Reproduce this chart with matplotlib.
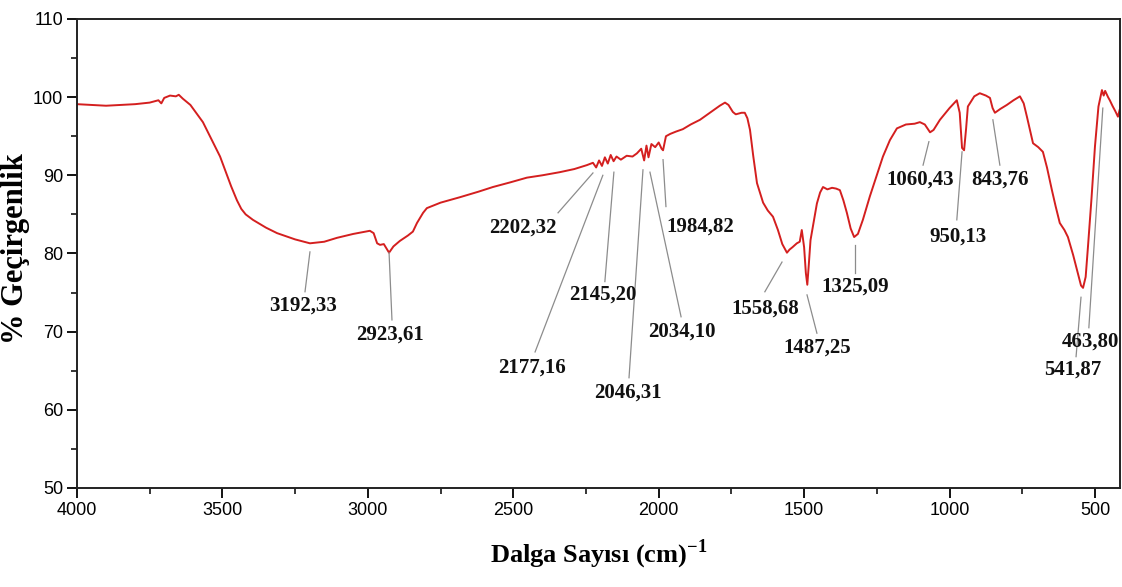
import numpy as np
import matplotlib.pyplot as plt
from matplotlib.ticker import MultipleLocator

plt.rcParams['mathtext.fontset'] = 'custom'
plt.rcParams['mathtext.rm'] = 'Liberation Serif:bold'
plt.rcParams['mathtext.bf'] = 'Liberation Serif:bold'

# FTIR spektrumu (okunan degerler)
wn = [4000, 3950, 3900, 3850, 3800, 3750, 3720, 3710, 3700, 3680, 3660, 3650, 3636, 3610,
      3567, 3508, 3470, 3450, 3435, 3420, 3395, 3350, 3312, 3250, 3199, 3150, 3106, 3050,
      2993, 2980, 2968, 2958, 2945, 2927, 2912, 2890, 2862, 2845, 2831, 2810, 2797, 2750,
      2683, 2620, 2570, 2510, 2453, 2400, 2340, 2290, 2247, 2226, 2215, 2205, 2195, 2185,
      2175, 2165, 2155, 2145, 2130, 2110, 2090, 2075, 2060, 2050, 2042, 2035, 2025, 2012,
      2000, 1990, 1985, 1975, 1960, 1940, 1917, 1890, 1858, 1820, 1790, 1772, 1760, 1745,
      1735, 1715, 1704, 1695, 1686, 1675, 1662, 1641, 1625, 1607, 1590, 1575, 1559, 1550,
      1540, 1525, 1515, 1508, 1500, 1494, 1489, 1484, 1478, 1465, 1456, 1445, 1435, 1420,
      1404, 1390, 1377, 1365, 1353, 1340, 1328, 1315, 1298, 1274, 1250, 1229, 1205, 1181,
      1150, 1120, 1102, 1085, 1067, 1055, 1033, 1000, 975, 965, 957, 950, 943, 937, 915,
      896, 875, 861, 852, 844, 825, 803, 780, 758, 745, 734, 713, 695, 679, 665, 648, 635,
      621, 605, 593, 575, 559, 548, 541, 532, 524, 512, 500, 488, 476, 470, 465, 455, 449,
      440, 430, 421, 415, 408]
tr = [99.1, 99.0, 98.9, 99.0, 99.1, 99.3, 99.6, 99.2, 99.9, 100.2, 100.1, 100.3, 99.8, 99.0,
      96.8, 92.4, 88.6, 86.8, 85.7, 85.0, 84.3, 83.3, 82.6, 81.8, 81.3, 81.5, 82.0, 82.5,
      82.9, 82.6, 81.3, 81.1, 81.2, 80.1, 80.9, 81.6, 82.3, 82.8, 83.9, 85.2, 85.8, 86.5,
      87.2, 87.9, 88.5, 89.1, 89.7, 90.0, 90.4, 90.8, 91.3, 91.6, 91.0, 91.9, 91.2, 92.3,
      91.5, 92.6, 91.8, 92.4, 92.0, 92.5, 92.4, 92.8, 93.4, 91.9, 93.8, 92.3, 94.0, 93.6,
      94.2, 93.4, 93.2, 95.0, 95.3, 95.6, 95.9, 96.5, 97.1, 98.1, 98.9, 99.3, 99.0, 98.1,
      97.8, 98.0, 98.0, 97.3, 95.8, 92.5, 89.0, 86.5, 85.5, 84.7, 83.0, 81.2, 80.1, 80.5,
      80.8, 81.3, 81.5, 83.0, 80.8, 77.5, 76.0, 78.5, 81.7, 84.5, 86.4, 87.8, 88.5, 88.2,
      88.4, 88.3, 88.1, 86.8, 85.2, 83.2, 82.1, 82.5, 84.3, 87.3, 90.0, 92.4, 94.5, 96.0,
      96.5, 96.6, 96.8, 96.5, 95.5, 95.8, 97.1, 98.6, 99.6, 98.0, 93.5, 93.2, 96.0, 98.8,
      100.1, 100.5, 100.2, 99.9, 98.6, 98.0, 98.5, 99.0, 99.6, 100.1, 99.2, 97.5, 94.1,
      93.6, 93.0, 91.0, 88.1, 86.0, 83.9, 83.0, 82.1, 79.8, 77.5, 75.9, 75.6, 77.0, 80.9,
      87.0, 93.7, 98.8, 100.9, 100.2, 100.8, 100.0, 99.6, 98.9, 98.2, 97.5, 98.4, 98.7]

peak_labels = ["3192,33", "2923,61", "2202,32", "2177,16", "2145,20", "2046,31", "2034,10",
               "1984,82", "1558,68", "1487,25", "1325,09", "1060,43", "950,13", "843,76",
               "463,80", "541,87"]

# yerlesim: (cizgi ucu), (cizgi sonu), (yazi merkezi)
callouts = [((3199, 80.2), (3216, 75.1), (3223, 73.3)),
            ((2927, 80.1), (2917, 71.5), (2924, 69.6)),
            ((2226, 90.3), (2346, 85.2), (2467, 83.3)),
            ((2192, 90.0), (2425, 67.4), (2436, 65.4)),
            ((2154, 90.4), (2185, 76.4), (2192, 74.7)),
            ((2054, 90.7), (2102, 64.1), (2106, 62.2)),
            ((2030, 90.4), (1923, 71.9), (1920, 70.0)),
            ((1985, 92.0), (1975, 86.0), (1858, 83.4)),
            ((1576, 78.9), (1635, 75.1), (1635, 73.0)),
            ((1490, 74.7), (1456, 69.8), (1456, 67.9)),
            ((1325, 81.1), (1325, 77.5), (1325, 75.7)),
            ((1071, 94.3), (1091, 91.3), (1102, 89.4)),
            ((957, 93.0), (975, 84.3), (971, 82.1)),
            ((851, 97.1), (827, 91.3), (827, 89.5)),
            ((473, 98.6), (521, 70.5), (517, 68.7)),
            ((548, 74.4), (565, 66.8), (576, 65.1))]

fig = plt.figure(figsize=(11.22, 5.87), dpi=100)
ax = fig.add_axes([0.0686, 0.1687, 0.9296, 0.799])

ax.plot(wn, tr, color="#d41f1f", lw=1.4)

for lab, (tip, foot, txt) in zip(peak_labels, callouts):
    ax.plot([tip[0], foot[0]], [tip[1], foot[1]], color="#8c8c8c", lw=0.9)
    ax.text(txt[0], txt[1], lab, ha="center", va="center", fontsize=15,
            fontweight="bold", family="Liberation Serif", color="#111111")

ax.set_xlim(4000, 414)
ax.set_ylim(50, 110)
ax.xaxis.set_major_locator(MultipleLocator(500))
ax.xaxis.set_minor_locator(MultipleLocator(250))
ax.yaxis.set_major_locator(MultipleLocator(10))
ax.yaxis.set_minor_locator(MultipleLocator(5))
ax.tick_params(which="major", direction="out", length=7, width=1.3, labelsize=13, pad=3)
ax.tick_params(which="minor", direction="out", length=4, width=1.1)
for lbl in ax.get_xticklabels() + ax.get_yticklabels():
    lbl.set_family("Liberation Sans")
for sp in ax.spines.values():
    sp.set_linewidth(1.4)
    sp.set_color("#222222")

ax.set_ylabel("% Geçirgenlik", fontsize=22, fontweight="bold", family="Liberation Serif")
ax.set_xlabel("Dalga Sayısı (cm)$^{\\mathbf{-1}}$", fontsize=19, fontweight="bold",
              family="Liberation Serif")
ax.yaxis.set_label_coords(-0.045, 0.51)
ax.xaxis.set_label_coords(0.5, -0.105)

fig.savefig("out.png", dpi=100)
